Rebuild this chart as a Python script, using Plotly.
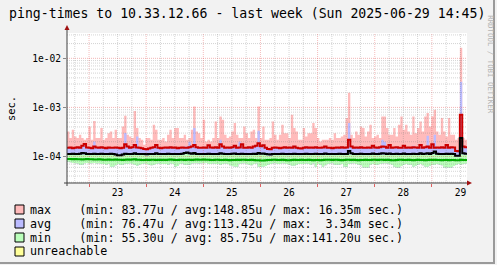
import pandas as pd
import plotly.graph_objects as go

# ---------------- data (microseconds, hourly, from 2025-06-22 14:45) ----------------
START = "2025-06-22 14:45"
END = "2025-06-29 14:45"
y_tick_vals = [1e-4, 1e-3, 1e-2]
y_tick_text = ["1e-04", "1e-03", "1e-02"]
day_labels = ["23", "24", "25", "26", "27", "28", "29"]

max_peak_us = [
    324, 237, 350, 256, 237, 277, 237, 219, 237, 409,
    219, 530, 237, 237, 379, 219, 237, 299, 324, 237,
    350, 237, 237, 409, 680, 277, 256, 237, 850, 379,
    237, 219, 173, 237, 237, 219, 443, 350, 219, 219,
    237, 202, 277, 350, 237, 379, 379, 237, 237, 277,
    219, 237, 350, 1048, 324, 299, 237, 560, 202, 219,
    202, 237, 518, 237, 655, 560, 277, 237, 256, 324,
    479, 277, 237, 237, 409, 299, 237, 324, 350, 237,
    1048, 237, 409, 219, 219, 237, 518, 277, 219, 277,
    443, 299, 299, 237, 708, 379, 324, 219, 219, 379,
    256, 299, 299, 479, 379, 237, 202, 219, 219, 219,
    237, 219, 299, 237, 237, 256, 277, 606, 2000, 277,
    237, 324, 277, 409, 379, 256, 324, 443, 237, 256,
    277, 237, 655, 655, 379, 277, 277, 379, 256, 443,
    655, 350, 443, 324, 277, 655, 299, 379, 518, 324,
    655, 766, 409, 655, 896, 324, 277, 606, 324, 256,
    606, 277, 277, 219, 237, 16350, 237, 219,
]

avg_peak_us = [
    150, 148, 155, 150, 152, 150, 165, 185, 152, 150,
    150, 202, 152, 150, 158, 150, 150, 155, 150, 150,
    155, 150, 150, 155, 300, 165, 150, 155, 180, 256,
    150, 150, 145, 145, 150, 150, 160, 180, 150, 150,
    150, 155, 150, 160, 150, 155, 150, 152, 155, 160,
    160, 200, 165, 379, 160, 150, 150, 160, 150, 175,
    155, 150, 160, 150, 219, 165, 150, 155, 150, 160,
    170, 150, 200, 185, 150, 150, 160, 150, 165, 170,
    335, 165, 175, 150, 148, 145, 150, 155, 150, 150,
    150, 160, 150, 155, 160, 165, 150, 150, 150, 155,
    160, 150, 155, 150, 160, 150, 150, 155, 165, 150,
    150, 150, 155, 155, 150, 160, 150, 155, 479, 165,
    150, 155, 150, 160, 150, 150, 155, 150, 170, 155,
    150, 160, 219, 200, 150, 175, 150, 155, 160, 150,
    155, 170, 150, 155, 150, 165, 155, 150, 180, 155,
    160, 266, 155, 185, 277, 155, 150, 160, 150, 180,
    150, 160, 155, 140, 135, 3340, 165, 160,
]

min_peak_us = [
    108, 107, 108, 106, 107, 108, 110, 109, 107, 106,
    107, 108, 106, 107, 108, 106, 107, 106, 108, 107,
    104, 101, 101, 104, 108, 107, 106, 107, 110, 107,
    106, 107, 106, 105, 106, 107, 106, 110, 107, 106,
    107, 106, 108, 107, 106, 107, 106, 107, 108, 111,
    112, 110, 108, 110, 107, 106, 107, 106, 107, 108,
    107, 106, 107, 106, 110, 108, 107, 106, 107, 108,
    108, 107, 106, 108, 107, 106, 107, 106, 108, 107,
    111, 108, 108, 106, 105, 104, 106, 107, 106, 107,
    108, 107, 106, 107, 106, 108, 107, 106, 106, 107,
    108, 107, 106, 107, 108, 106, 107, 106, 108, 107,
    106, 107, 106, 107, 108, 107, 106, 107, 112, 109,
    107, 106, 107, 108, 106, 107, 106, 107, 108, 107,
    106, 108, 109, 108, 107, 108, 106, 107, 108, 106,
    107, 108, 106, 107, 106, 108, 107, 106, 109, 107,
    108, 109, 107, 110, 112, 108, 107, 106, 107, 108,
    107, 108, 106, 99, 98, 112, 109, 108,
]

min_low_us = [
    78, 76, 74, 73, 72, 68, 68, 73, 74, 72,
    73, 74, 72, 73, 70, 70, 68, 70, 62, 62,
    66, 70, 68, 68, 72, 70, 73, 70, 68, 65,
    68, 70, 72, 70, 68, 66, 68, 70, 72, 70,
    70, 70, 68, 72, 70, 62, 64, 70, 72, 68,
    68, 68, 72, 73, 73, 72, 73, 73, 74, 70,
    70, 72, 70, 70, 68, 70, 72, 70, 66, 64,
    62, 62, 70, 72, 73, 70, 68, 66, 70, 72,
    62, 62, 62, 64, 68, 70, 72, 73, 70, 70,
    73, 72, 70, 68, 65, 65, 68, 70, 70, 70,
    72, 70, 68, 72, 62, 70, 68, 62, 66, 70,
    72, 73, 68, 68, 68, 70, 62, 62, 70, 72,
    73, 70, 68, 66, 60, 60, 60, 68, 70, 68,
    68, 70, 72, 73, 72, 70, 68, 62, 60, 60,
    64, 68, 70, 68, 68, 62, 65, 68, 70, 66,
    62, 62, 65, 68, 68, 70, 68, 66, 60, 60,
    60, 60, 64, 68, 70, 68, 70, 72,
]

max_line_us = [
    150, 152, 148, 150, 154, 150, 165, 180, 152, 150,
    148, 160, 152, 150, 155, 150, 148, 152, 150, 150,
    152, 150, 148, 150, 178, 160, 150, 155, 172, 152,
    150, 148, 142, 140, 145, 150, 155, 172, 150, 148,
    150, 152, 150, 155, 150, 152, 148, 150, 152, 150,
    150, 155, 160, 172, 155, 150, 150, 152, 150, 170,
    152, 150, 155, 150, 178, 160, 150, 152, 150, 155,
    165, 150, 152, 178, 150, 150, 155, 150, 160, 165,
    187, 162, 170, 150, 142, 140, 150, 152, 150, 148,
    150, 155, 150, 152, 150, 160, 150, 148, 145, 150,
    155, 150, 152, 150, 155, 150, 150, 152, 160, 150,
    150, 148, 150, 152, 150, 155, 150, 152, 219, 160,
    150, 152, 150, 155, 150, 150, 152, 150, 165, 152,
    150, 155, 160, 158, 150, 172, 150, 152, 155, 150,
    150, 165, 150, 152, 150, 155, 152, 150, 172, 150,
    155, 160, 150, 178, 150, 152, 150, 155, 150, 172,
    150, 155, 152, 130, 128, 708, 160, 155,
]

avg_line_us = [
    113, 112, 114, 113, 112, 114, 118, 116, 113, 112,
    113, 114, 112, 113, 114, 112, 113, 112, 114, 113,
    110, 106, 106, 110, 114, 113, 112, 113, 116, 113,
    112, 113, 112, 111, 112, 113, 112, 116, 113, 112,
    113, 112, 114, 113, 112, 113, 112, 113, 114, 118,
    120, 116, 114, 118, 113, 112, 113, 112, 113, 114,
    113, 112, 113, 112, 116, 114, 113, 112, 113, 114,
    115, 113, 112, 114, 113, 112, 113, 112, 114, 113,
    118, 114, 115, 112, 111, 110, 112, 113, 112, 113,
    114, 113, 112, 113, 112, 114, 113, 112, 112, 113,
    114, 113, 112, 113, 114, 112, 113, 112, 115, 113,
    112, 113, 112, 113, 114, 113, 112, 113, 130, 116,
    113, 112, 113, 114, 112, 113, 112, 113, 115, 113,
    112, 114, 116, 115, 113, 115, 112, 113, 114, 112,
    113, 115, 112, 113, 112, 114, 113, 112, 116, 113,
    114, 116, 113, 118, 126, 114, 113, 112, 113, 114,
    113, 114, 112, 104, 103, 237, 116, 114,
]

min_line_us = [
    89, 89, 88, 89, 88, 88, 87, 88, 89, 88,
    88, 87, 87, 88, 87, 86, 86, 87, 86, 86,
    87, 86, 86, 85, 86, 87, 86, 87, 88, 86,
    86, 85, 85, 86, 85, 86, 86, 85, 86, 85,
    86, 85, 86, 87, 86, 85, 85, 86, 86, 85,
    86, 86, 85, 86, 87, 86, 86, 87, 86, 86,
    85, 85, 86, 86, 85, 85, 86, 85, 84, 85,
    85, 86, 85, 86, 86, 85, 85, 86, 85, 84,
    84, 83, 83, 84, 85, 85, 86, 86, 85, 85,
    86, 85, 84, 84, 85, 86, 85, 85, 86, 85,
    85, 86, 85, 84, 85, 85, 84, 85, 86, 86,
    86, 85, 86, 86, 85, 84, 85, 86, 86, 85,
    86, 85, 84, 85, 85, 86, 85, 85, 86, 86,
    85, 86, 86, 85, 86, 85, 84, 84, 85, 86,
    86, 85, 85, 86, 85, 84, 85, 86, 85, 85,
    84, 85, 86, 85, 86, 85, 85, 84, 85, 85,
    84, 85, 85, 84, 84, 86, 85, 85,
]

legend_names = ["max", "avg", "min", "unreachable"]
legend_stats = [
    "(min: 83.77u / avg:148.85u / max: 16.35m sec.)",
    "(min: 76.47u / avg:113.42u / max:  3.34m sec.)",
    "(min: 55.30u / avg: 85.75u / max:141.20u sec.)",
    "",
]
title_text = "ping-times to 10.33.12.66 - last week (Sun 2025-06-29 14:45)"

# ---------------- styling ----------------
FONT = "DejaVu Sans Mono"
W, H = 497, 265
PL, PR, PT, PB = 67, 467, 33, 183          # plot area in pixels
C_MAX, C_AVG, C_MIN, C_UNR = "#ffbbbb", "#bbbbff", "#bbffbb", "#ffff99"
Y_LO_LOG, Y_HI_LOG = -4.54, -1.484


def px(x):
    return (x - PL) / (PR - PL)


def py(y):
    return (PB - y) / (PB - PT)


t0, t1 = pd.Timestamp(START), pd.Timestamp(END)
xs = pd.date_range(t0, periods=len(max_peak_us) + 1, freq="h")


def sec(a):
    v = [u / 1e6 for u in a]
    return v + [v[-1]]


fig = go.Figure()


def band(lo, hi, color):
    fig.add_trace(go.Scatter(x=xs, y=sec(lo), mode="lines", line=dict(width=0, shape="hv"),
                             hoverinfo="skip", showlegend=False))
    fig.add_trace(go.Scatter(x=xs, y=sec(hi), mode="lines", line=dict(width=0, shape="hv"),
                             fill="tonexty", fillcolor=color, hoverinfo="skip", showlegend=False))


band(min_low_us, max_peak_us, C_MAX)
band(min_low_us, avg_peak_us, C_AVG)
band(min_low_us, min_peak_us, C_MIN)

# grid (drawn over the areas, under the lines, like rrdtool)
ylo, yhi = 10 ** Y_LO_LOG, 10 ** Y_HI_LOG
minor_y = [k * 10.0 ** d for d in range(-5, -1) for k in range(2, 10) if ylo < k * 10.0 ** d < yhi]
major_y = [v for v in y_tick_vals if ylo < v < yhi]
six = pd.date_range(t0.ceil("6h"), t1, freq="6h")
midn = [t for t in six if t.hour == 0]
minor_x = [t for t in six if t.hour != 0]


def hlines(vals):
    x, y = [], []
    for v in vals:
        x += [t0, t1, None]
        y += [v, v, None]
    return x, y


def vlines(vals):
    x, y = [], []
    for v in vals:
        x += [v, v, None]
        y += [ylo, yhi, None]
    return x, y


for (gx, gy), col in [(hlines(minor_y), "rgba(120,120,120,0.32)"),
                      (vlines(minor_x), "rgba(120,120,120,0.30)"),
                      (hlines(major_y), "rgba(225,70,70,0.40)"),
                      (vlines(midn), "rgba(225,70,70,0.36)")]:
    fig.add_trace(go.Scatter(x=gx, y=gy, mode="lines", line=dict(color=col, width=1, dash="1px,1px"),
                             hoverinfo="skip", showlegend=False, connectgaps=False))

for arr, col in [(max_line_us, "#cc0000"), (avg_line_us, "#000000"), (min_line_us, "#00a800")]:
    fig.add_trace(go.Scatter(x=xs, y=sec(arr), mode="lines", line=dict(color=col, width=2, shape="hv"),
                             hoverinfo="skip", showlegend=False))

noons = [t + pd.Timedelta(hours=12) for t in midn]

fig.update_layout(
    width=W, height=H,
    margin=dict(l=PL, r=W - PR, t=PT, b=H - PB, pad=0),
    paper_bgcolor="#f2f2f2", plot_bgcolor="#ffffff",
    font=dict(family=FONT, color="#000000"),
    showlegend=False,
    xaxis=dict(type="date", range=[t0, t1], showgrid=False, zeroline=False, showline=False,
               tickmode="array", tickvals=noons, ticktext=day_labels[:len(noons)],
               tickfont=dict(family=FONT, size=9.6), ticks="", ticklabelstandoff=2,
               minor=dict(tickmode="array", tickvals=midn, ticks="outside", ticklen=3,
                          tickcolor="#e06060", showgrid=False)),
    yaxis=dict(type="log", range=[Y_LO_LOG, Y_HI_LOG], showgrid=False, zeroline=False, showline=False,
               tickmode="array", tickvals=y_tick_vals, ticktext=y_tick_text,
               tickfont=dict(family=FONT, size=9.6), ticks="outside", ticklen=3, tickcolor="#888888"),
)

shapes = []
# axes lines
shapes.append(dict(type="line", xref="paper", yref="paper", x0=0, x1=0, y0=py(186), y1=py(29),
                   line=dict(color="#404040", width=1)))
shapes.append(dict(type="line", xref="paper", yref="paper", x0=px(64), x1=px(468), y0=0, y1=0,
                   line=dict(color="#404040", width=1)))
# arrows
shapes.append(dict(type="path", xref="paper", yref="paper",
                   path=f"M {px(64.5)},{py(30)} L {px(69.5)},{py(30)} L {px(67)},{py(25)} Z",
                   fillcolor="#a01010", line=dict(width=0)))
shapes.append(dict(type="path", xref="paper", yref="paper",
                   path=f"M {px(467)},{py(180.5)} L {px(467)},{py(185.5)} L {px(472)},{py(183)} Z",
                   fillcolor="#a01010", line=dict(width=0)))
# frame (right / bottom shade)
shapes.append(dict(type="line", xref="paper", yref="paper", x0=px(494), x1=px(494), y0=py(0), y1=py(263),
                   line=dict(color="#9a9a9a", width=2)))
shapes.append(dict(type="line", xref="paper", yref="paper", x0=px(0), x1=px(495), y0=py(263), y1=py(263),
                   line=dict(color="#9a9a9a", width=2)))

annotations = []
colors = [C_MAX, C_AVG, C_MIN, C_UNR]
for i, (name, stat) in enumerate(zip(legend_names, legend_stats)):
    cy = 209.5 + 14 * i
    shapes.append(dict(type="rect", xref="paper", yref="paper", x0=px(15), x1=px(24),
                       y0=py(cy - 4.5), y1=py(cy + 4.5), fillcolor=colors[i],
                       line=dict(color="#000000", width=1)))
    txt = name.ljust(7) + stat if stat else name
    annotations.append(dict(xref="paper", yref="paper", x=px(28), y=py(cy), xanchor="left",
                            yanchor="middle", showarrow=False, text=txt.replace(" ", "\u00a0"),
                            font=dict(family=FONT, size=11.7, color="#000000")))

annotations.append(dict(xref="paper", yref="paper", x=px(246.5), y=py(13), xanchor="center",
                        yanchor="middle", showarrow=False, text=title_text.replace(" ", "\u00a0"),
                        font=dict(family=FONT, size=13.2, color="#000000")))
annotations.append(dict(xref="paper", yref="paper", x=px(11), y=py(108), xanchor="center",
                        yanchor="middle", showarrow=False, text="sec.", textangle=-90,
                        font=dict(family=FONT, size=10.4, color="#000000")))
annotations.append(dict(xref="paper", yref="paper", x=px(490.8), y=py(64), xanchor="center",
                        yanchor="middle", showarrow=False, text="RRDTOOL\u00a0/\u00a0TOBI\u00a0OETIKER",
                        textangle=90, font=dict(family=FONT, size=7.4, color="#b4b4b4")))

fig.update_layout(shapes=shapes, annotations=annotations)
fig.write_html("out.html", config={"displayModeBar": False})
